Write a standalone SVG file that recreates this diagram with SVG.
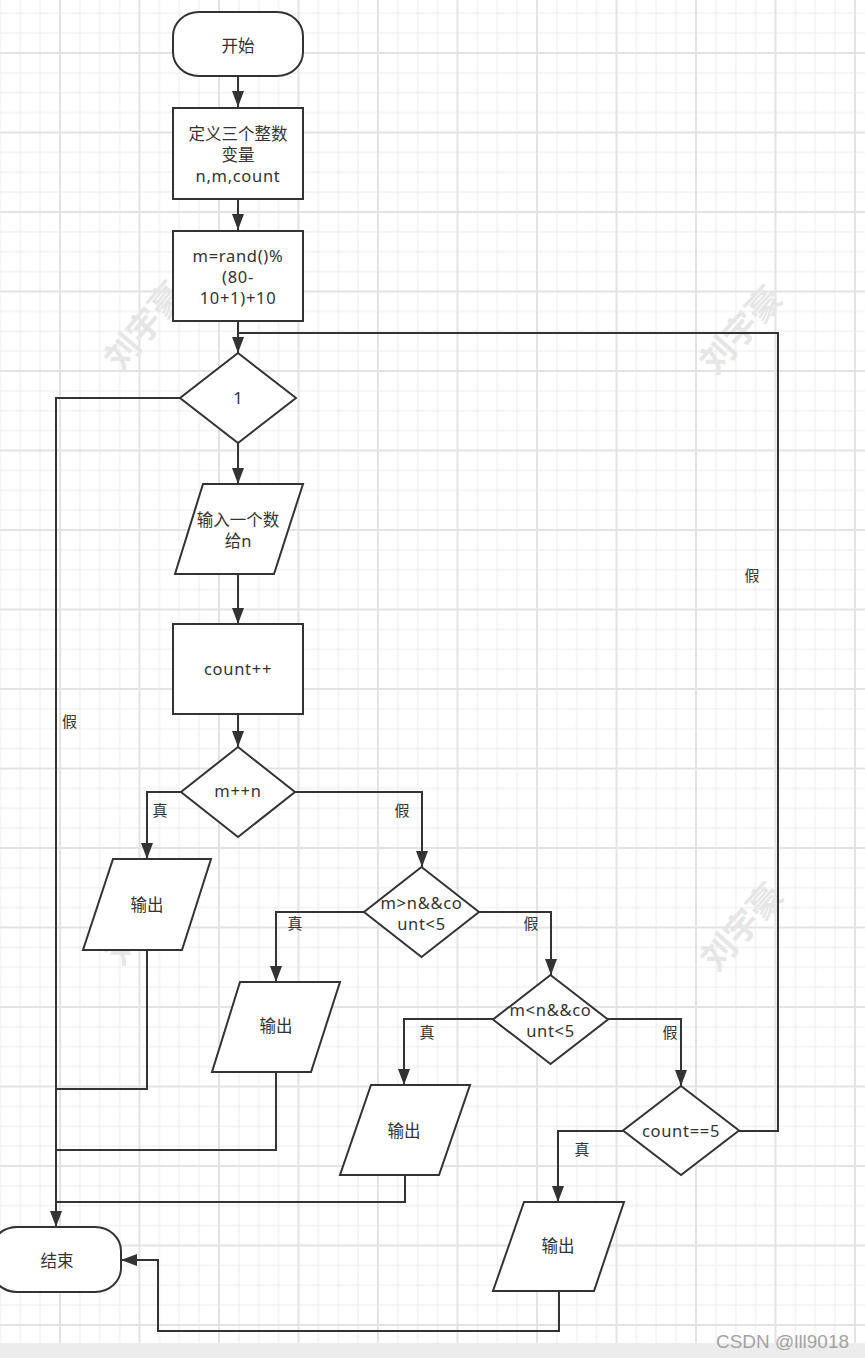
<svg xmlns="http://www.w3.org/2000/svg" width="865" height="1358" viewBox="0 0 865 1358">
<defs>
<pattern id="grid" x="10.3125" y="3.3125" width="79.5" height="79.5" patternUnits="userSpaceOnUse">
<path d="M9.9375 0V79.5M29.8125 0V79.5M69.5625 0V79.5M0 9.9375H79.5M0 29.8125H79.5M0 69.5625H79.5" stroke="#ebebeb" stroke-width="1" fill="none"/>
<path d="M49.6875 0V79.5M0 49.6875H79.5" stroke="#e3e3e3" stroke-width="2" fill="none"/>
</pattern>
<marker id="arr" viewBox="0 0 16 12" refX="16" refY="6" markerWidth="16" markerHeight="12" markerUnits="userSpaceOnUse" orient="auto">
<path d="M0,0 L16,6 L0,12 Z" fill="#333"/>
</marker>
</defs>
<style>
.n{fill:#fff;stroke:#333;stroke-width:2}
.c{fill:none;stroke:#333;stroke-width:2}
.a{marker-end:url(#arr)}
.t{font-family:"Noto Sans","Noto Sans CJK SC",sans-serif;font-size:16.5px;fill:#333;text-anchor:middle}
.e{letter-spacing:0.7px}
.l{font-family:"Noto Sans","Noto Sans CJK SC",sans-serif;font-size:15px;fill:#333;text-anchor:middle}
.w{font-family:"Noto Sans CJK SC",sans-serif;font-size:34px;font-weight:bold;fill:#e6e6e6;text-anchor:middle}
</style>
<rect width="865" height="1358" fill="#fff"/>
<rect width="865" height="1343" fill="url(#grid)"/>
<rect y="1343" width="865" height="15" fill="#ececec"/>

<g id="watermarks">
<text class="w" transform="translate(154,334) rotate(-50)">刘宇豪</text>
<text class="w" transform="translate(750,338) rotate(-48)">刘宇豪</text>
<text class="w" transform="translate(154,928) rotate(-50)">刘宇豪</text>
<text class="w" transform="translate(751,935) rotate(-48)">刘宇豪</text>
</g>

<g id="connectors">
<path class="c a" d="M238 76V107"/>
<path class="c a" d="M238 199V230"/>
<path class="c a" d="M238 321V353"/>
<path class="c" d="M739 1131H778V333H238"/>
<path class="c a" d="M180 398H56V1227"/>
<path class="c a" d="M238 443V484"/>
<path class="c a" d="M238 574V624"/>
<path class="c a" d="M238 714V747"/>
<path class="c a" d="M181 792H147V859"/>
<path class="c a" d="M295 792H422V867"/>
<path class="c" d="M147 950V1089H56"/>
<path class="c a" d="M364 912H276V982"/>
<path class="c a" d="M479 912H551V975"/>
<path class="c" d="M276 1072V1150H56"/>
<path class="c a" d="M493 1019H404V1085"/>
<path class="c a" d="M608 1019H681V1086"/>
<path class="c" d="M405 1175V1202H56"/>
<path class="c a" d="M623 1131H558V1202"/>
<path class="c a" d="M559 1291V1331H158V1260H121"/>
<text class="l" x="69.5" y="726.5">假</text>
<text class="l" x="160" y="815.5">真</text>
<text class="l" x="402" y="815.5">假</text>
<text class="l" x="295" y="928.5">真</text>
<text class="l" x="531" y="929">假</text>
<text class="l" x="427" y="1038">真</text>
<text class="l" x="670" y="1038">假</text>
<text class="l" x="582" y="1155">真</text>
<text class="l" x="752" y="581">假</text>
</g>

<g id="start">
<rect class="n" x="173" y="12" width="130" height="64" rx="26" ry="24"/>
<text class="t" x="238" y="52">开始</text>
</g>
<g id="define">
<rect class="n" x="173" y="108" width="130" height="91"/>
<text class="t" x="238" y="140">定义三个整数</text>
<text class="t" x="238" y="161">变量</text>
<text class="t e" x="238" y="182">n,m,count</text>
</g>
<g id="rand">
<rect class="n" x="173" y="231" width="130" height="90"/>
<text class="t e" x="238" y="262">m=rand()%</text>
<text class="t e" x="238" y="283">(80-</text>
<text class="t e" x="238" y="304">10+1)+10</text>
</g>
<g id="loop">
<path class="n" d="M238 353L296 398L238 443L180 398Z"/>
<text class="t" x="238" y="404">1</text>
</g>
<g id="input">
<path class="n" d="M203 484H303L274 574H175Z"/>
<text class="t" x="238" y="526">输入一个数</text>
<text class="t" x="238" y="547">给n</text>
</g>
<g id="count">
<rect class="n" x="173" y="624" width="130" height="90"/>
<text class="t e" x="238" y="675">count++</text>
</g>
<g id="eq">
<path class="n" d="M238 747L295 792L238 837L181 792Z"/>
<text class="t e" x="238" y="797">m++n</text>
</g>
<g id="out1">
<path class="n" d="M113 859H211L182 950H83Z"/>
<text class="t" x="147" y="911">输出</text>
</g>
<g id="gt">
<path class="n" d="M421.5 867L479 912L421.5 957L364 912Z"/>
<text class="t e" x="421.5" y="909">m&gt;n&amp;&amp;co</text>
<text class="t e" x="421.5" y="930">unt&lt;5</text>
</g>
<g id="out2">
<path class="n" d="M240 982H340L311 1072H212Z"/>
<text class="t" x="276" y="1032">输出</text>
</g>
<g id="lt">
<path class="n" d="M550.5 975L608 1019.5L550.5 1064L493 1019.5Z"/>
<text class="t e" x="550.5" y="1016">m&lt;n&amp;&amp;co</text>
<text class="t e" x="550.5" y="1037">unt&lt;5</text>
</g>
<g id="out3">
<path class="n" d="M371 1085H470L439 1175H340Z"/>
<text class="t" x="404" y="1137">输出</text>
</g>
<g id="five">
<path class="n" d="M681 1086L739 1130.5L681 1175L623 1130.5Z"/>
<text class="t e" x="681" y="1137">count==5</text>
</g>
<g id="out4">
<path class="n" d="M524 1202H624L594 1291H493Z"/>
<text class="t" x="558" y="1252">输出</text>
</g>
<g id="end">
<rect class="n" x="-9" y="1227" width="130" height="65" rx="26" ry="24"/>
<text class="t" x="57" y="1267">结束</text>
</g>
<text x="716" y="1348" font-family="Liberation Sans,sans-serif" font-size="18" fill="#a3a3a3" textLength="133" lengthAdjust="spacingAndGlyphs">CSDN @lll9018</text>
</svg>
